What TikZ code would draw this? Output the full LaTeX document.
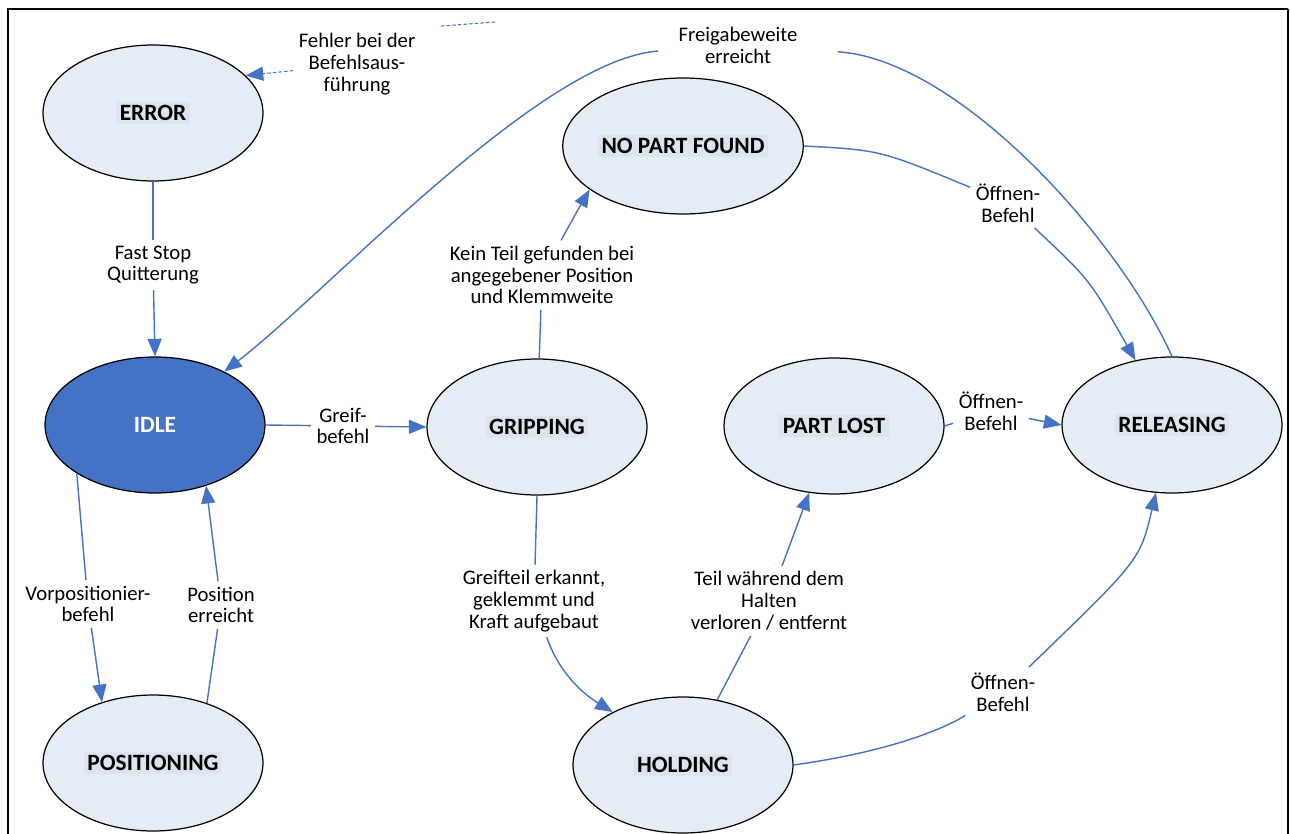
\documentclass[tikz,border=0pt]{standalone}
\usepackage{fontspec}
\setmainfont{Carlito}
\usetikzlibrary{shapes.geometric,arrows.meta}
\definecolor{edgeblue}{HTML}{4472C4}
\definecolor{statefill}{HTML}{E6ECF6}
\definecolor{hlgray}{HTML}{DEE4EE}
\newcommand{\statetext}[1]{{\setlength{\fboxsep}{2pt}\colorbox{hlgray}{#1}}}

\begin{document}
\begin{tikzpicture}[x=0.02cm,y=-0.02cm,
	state/.style={ellipse,draw=black,line width=0.7pt,fill=statefill,minimum width=4.4cm,minimum height=2.72cm,inner sep=0pt,font=\fontsize{13.3}{15}\selectfont\bfseries},
	lbl/.style={align=center,inner sep=3pt,font=\fontsize{11.8}{12.4}\selectfont},
	conn/.style={draw=edgeblue,line width=0.8pt},
	connarr/.style={conn,-{Triangle[length=10pt,width=8pt]}},
	conndash/.style={draw=edgeblue,line width=0.6pt,dash pattern=on 2pt off 1.2pt}]
							\useasboundingbox (0,0) rectangle (1290,834);
							\draw[line width=1.6pt] (8,834) |- (1288,9);
							\draw[line width=0.9pt] (1288,9) -- (1288,834);

							\node[state] (err) at (153,113) {\statetext{ERROR}};
							\node[state,fill=edgeblue,text=white] (idle) at (155,425) {IDLE};
							\node[state] (pos) at (153,763) {\statetext{POSITIONING}};
							\node[state] (grip) at (537,427) {\statetext{GRIPPING}};
							\node[state] (npf) at (683,146) {\statetext{NO PART FOUND}};
							\node[state] (hold) at (683,765) {\statetext{HOLDING}};
							\node[state] (lost) at (834,426) {\statetext{PART LOST}};
							\node[state] (rel) at (1172,425) {\statetext{RELEASING}};

							\node[lbl] (lfehler) at (357,64) {Fehler bei der\\Befehlsaus-\\führung};
							\node[lbl] (lfrei) at (738,45) {Freigabeweite\\erreicht};
							\node[lbl] (lfast) at (153,265) {Fast Stop\\Quitterung};
							\node[lbl] (lgreif) at (343,426) {Greif-\\befehl};
							\node[lbl] (lkein) at (542,275) {Kein Teil gefunden bei\\angegebener Position\\und Klemmweite};
							\node[lbl] (lgriffen) at (534,601) {Greifteil erkannt,\\geklemmt und\\Kraft aufgebaut};
							\node[lbl] (lverl) at (769,601) {Teil während dem\\Halten\\verloren / entfernt};
							\node[lbl] (loeffa) at (1008,203) {Öffnen-\\Befehl};
							\node[lbl] (loeffb) at (991,411) {Öffnen-\\Befehl};
							\node[lbl] (loeffc) at (1003,692) {Öffnen-\\Befehl};
							\node[lbl] (lvor) at (88,604) {Vorpositionier-\\befehl};
							\node[lbl] (lposerr) at (221,605) {Position\\erreicht};
							\coordinate (fstart) at (495,22);

							\draw[conndash,shorten >=0.36cm] (fstart) -- (lfehler.north east);
							\draw[conndash,-{Triangle[length=10pt,width=8pt]}] (lfehler) -- (err.22);

							\foreach \from/\to in {err.south/lfast,idle.east/lgreif,idle.south west/lvor,pos.48/lposerr,grip/lkein,grip.south/lgriffen,hold/lverl,lost.east/loeffb}
								\draw[conn] (\from) -- (\to);
							\foreach \from/\to in {lfast/idle.north,lgreif/grip.west,lvor/pos.130,lposerr/idle.-50,lverl/lost,loeffb/rel.west}
								\draw[connarr] (\from) -- (\to);

							\draw[conn,shorten >=0.7cm] (rel.north) .. controls (1120,240) and (960,60) .. (lfrei);
							\draw[connarr,shorten <=0.3cm] (lfrei) .. controls (540,60) and (330,290) .. (idle);
							\draw[connarr] (lkein) .. controls (575,215) .. (npf.205);
							\draw[connarr] (lgriffen) .. controls (560,675) and (585,695) .. (hold.143);
							\draw[conn] (npf.east) .. controls (880,150) .. (loeffa);
							\draw[connarr] (loeffa) .. controls (1090,280) .. (rel);
							\draw[conn] (hold.east) .. controls (900,750) and (950,725) .. (loeffc);
							\draw[connarr] (loeffc) .. controls (1140,560) .. (rel);

						\end{tikzpicture}
\end{document}
